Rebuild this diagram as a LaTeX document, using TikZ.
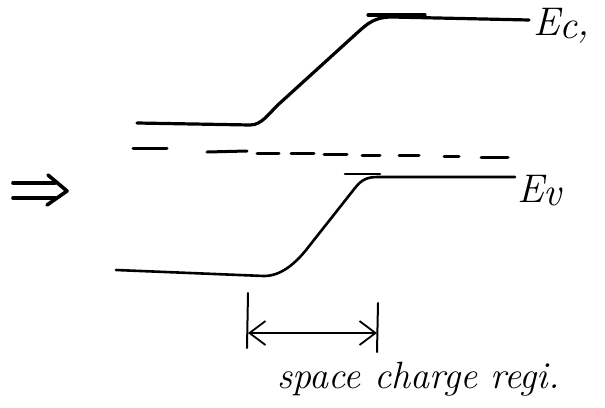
\documentclass[tikz,border=0pt]{standalone}
\usetikzlibrary{arrows.meta}
\begin{document}
\begin{tikzpicture}[x=1pt,y=-1pt,
  band/.style={line width=3.2pt, line cap=round, line join=round},
  thinband/.style={line width=2.6pt, line cap=round, line join=round},
  fermi/.style={line width=3pt, line cap=round},
  bar/.style={line width=2pt, line cap=round},
  dimarrow/.style={line width=1.8pt, {Straight Barb[length=16pt,width=24pt,line width=1.8pt]}-{Straight Barb[length=16pt,width=24pt,line width=1.8pt]}},
  dbl/.style={line width=3.6pt, line cap=round, line join=round},
  lbl/.style={inner sep=0pt, font=\fontsize{40}{44}\selectfont\itshape},
  txt/.style={inner sep=0pt, font=\fontsize{38}{42}\selectfont\itshape}]
\useasboundingbox (0,0) rectangle (605,407);
% conduction band
\draw[band] (137,123) -- (250,125) .. controls (262,125) and (268,114) .. (280,103) -- (357,33) .. controls (368,23) and (375,17) .. (392,17) -- (529,20);
\draw[band] (368,15) -- (425,15);
% Fermi level (dashed strokes)
\draw[fermi] (133,148) -- (167,148);
\draw[fermi] (207,152) -- (247,151);
\draw[fermi] (257,153) -- (279,153);
\draw[fermi] (291,153) -- (314,153);
\draw[fermi] (324,154) -- (347,154);
\draw[fermi] (362,155) -- (380,155);
\draw[fermi] (399,155) -- (419,155);
\draw[fermi] (444,156) -- (459,156);
\draw[fermi] (481,157) -- (508,157);
% valence band
\draw[thinband] (116,270) -- (264,276) .. controls (280,276) and (295,265) .. (310,245) -- (355,188) .. controls (362,179) and (368,177) .. (378,177) -- (515,177);
\draw[thinband] (345,174) -- (380,174);
% labels
\node[lbl, anchor=base west] (ec) at (533,35) {E\raisebox{-3pt}{c},};
\node[lbl, anchor=base west] (ev) at (517,202) {E\raisebox{-3pt}{v}};
% double arrow
\draw[dbl] (13,183) -- (55,183);
\draw[dbl] (13,198) -- (55,198);
\draw[dbl] (48,175) -- (67,191) -- (47,205);
% space charge region marker
\coordinate (l1) at (248,293);
\coordinate (l2) at (247,348);
\coordinate (r1) at (378,303);
\coordinate (r2) at (377,352);
\coordinate (la) at (248,333);
\coordinate (ra) at (377,333);
\draw[bar] (l1) -- (l2);
\draw[bar] (r1) -- (r2);
\draw[dimarrow] (la) -- (ra);
\node[txt, anchor=base west] (scr) at (277,388) {space charge regi.};
\end{tikzpicture}
\end{document}
